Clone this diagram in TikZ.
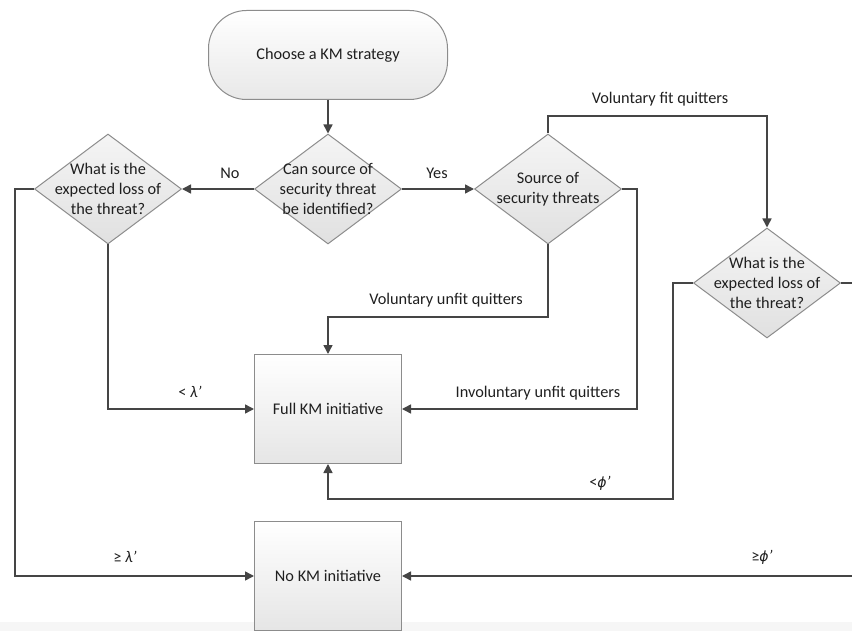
\documentclass[tikz,border=0pt]{standalone}
\usepackage{fontspec}
\setmainfont{Carlito}
\newfontfamily\dejavu{DejaVu Sans}
\usetikzlibrary{shapes.geometric,arrows.meta,calc}
\definecolor{linec}{HTML}{454545}
\definecolor{borderc}{HTML}{8C8C8C}
\definecolor{textc}{HTML}{1F1F1F}
\begin{document}
\begin{tikzpicture}[x=1pt,y=-1pt,
  every node/.style={text=textc,font=\fontsize{16.3}{20}\selectfont},
  terminal/.style={draw=borderc,line width=1pt,rounded corners=38pt,minimum width=239pt,minimum height=89pt,inner sep=0pt,top color=white,bottom color=gray!18},
  decision/.style={draw=borderc,line width=1pt,diamond,minimum width=147pt,minimum height=110pt,inner sep=0pt,top color=gray!8,bottom color=gray!24},
  procbox/.style={draw=borderc,line width=1pt,rectangle,minimum width=147pt,minimum height=109pt,inner sep=0pt,top color=white,bottom color=gray!20},
  dtext/.style={align=center,inner sep=0pt},
  lbl/.style={inner sep=0pt},
  conn/.style={draw=linec,line width=1.5pt},
  arr/.style={conn,-{Triangle[length=9pt,width=9pt]}}
]
\useasboundingbox (0,0) rectangle (852,631);
\fill[gray!7] (0,622) rectangle (852,631);

% nodes
\node[terminal] (start) at (328,55) {};
\node[dtext] (starttxt) at (start.center) {Choose a KM strategy};
\node[decision] (d1) at (328,189) {};
\node[dtext] (d1txt) at (d1.center) {Can source of\\security threat\\be identified?};
\node[decision] (d2) at (108,189) {};
\node[dtext] (d2txt) at (d2.center) {What is the\\expected loss of\\the threat?};
\node[decision] (d3) at (548,189) {};
\node[dtext] (d3txt) at (d3.center) {Source of\\security threats};
\node[decision] (d4) at (767,283) {};
\node[dtext] (d4txt) at (d4.center) {What is the\\expected loss of\\the threat?};
\node[procbox] (full) at (328,409) {};
\node[dtext] (fulltxt) at (full.center) {Full KM initiative};
\node[procbox] (nokm) at (328,576) {};
\node[dtext] (nokmtxt) at (nokm.center) {No KM initiative};

% routing coordinates
\coordinate (yfit) at (0,116);
\coordinate (yvu) at (0,317);
\coordinate (xinv) at (637,0);
\coordinate (xl) at (15,0);
\coordinate (xphi) at (673,0);
\coordinate (yphi) at (499,499);
\coordinate (xr) at (880,0);

% connectors
\draw[arr] (start.south) -- (d1.north);
\draw[arr] (d1.west) -- (d2.east);
\draw[arr] (d1.east) -- (d3.west);
\draw[arr] (d3.north) -- (d3.north |- yfit) -| (d4.north);
\draw[arr] (d3.south) -- (d3.south |- yvu) -| (full.north);
\draw[arr] (d3.east) -- (d3.east -| xinv) |- (full.east);
\draw[arr] (d2.south) |- (full.west);
\draw[arr] (d2.west) -- (d2.west -| xl) |- (nokm.west);
\draw[arr] (d4.west) -- (d4.west -| xphi) -- (xphi |- yphi) -| (full.south);
\draw[arr] (d4.east) -- (d4.east -| xr) |- (nokm.east);

% labels
\node[lbl] (lno) at (230,173) {No};
\node[lbl] (lyes) at (437,173) {Yes};
\node[lbl] (lvf) at (660,99) {Voluntary fit quitters};
\node[lbl] (lvu) at (446,300) {Voluntary unfit quitters};
\node[lbl] (liu) at (538,393) {Involuntary unfit quitters};
\node[lbl] (llt) at (190,392) {< \textit{λ’}};
\node[lbl] (lge) at (125,557) {≥ \textit{λ’}};
\node[lbl] (lpl) at (600,483) {<{\dejavu\fontsize{14}{16}\selectfont\textit{ϕ}}\textit{’}};
\node[lbl] (lpg) at (762,557) {≥{\dejavu\fontsize{14}{16}\selectfont\textit{ϕ}}\textit{’}};
\end{tikzpicture}
\end{document}
